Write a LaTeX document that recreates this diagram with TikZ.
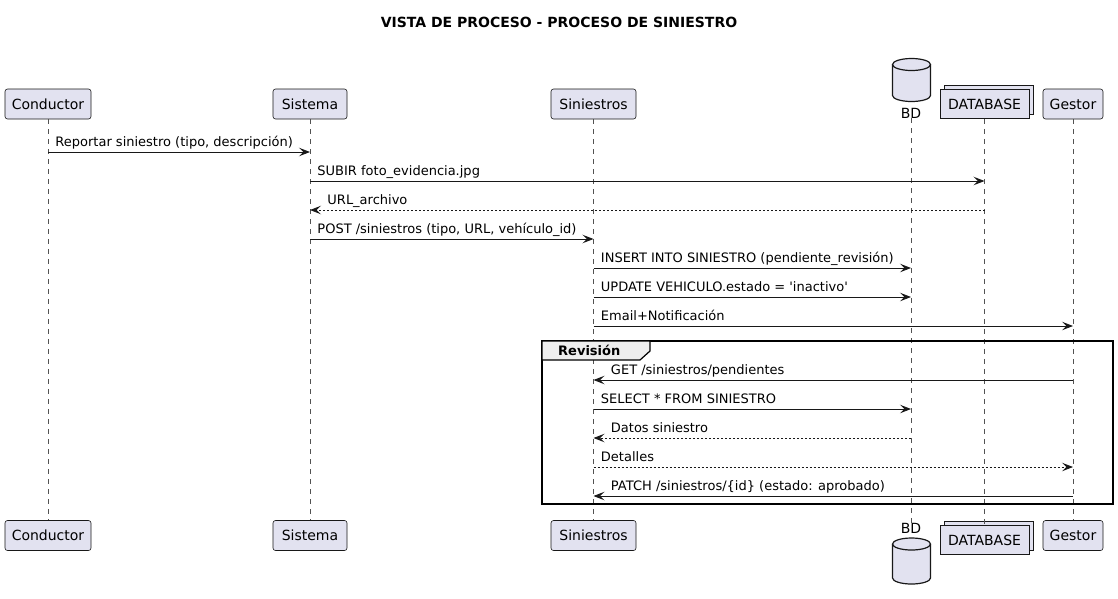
\documentclass[tikz,border=0pt]{standalone}
\usepackage{fontspec}
\setmainfont{DejaVu Sans}
\usetikzlibrary{positioning,calc}
\usetikzlibrary{arrows.meta,shadows}
\definecolor{PartFill}{HTML}{E2E2F0}
\definecolor{PartLine}{HTML}{181818}
\definecolor{TabFill}{HTML}{EEEEEE}
\tikzset{
  part/.style={draw=PartLine,fill=PartFill,rounded corners=2.5pt,line width=0.6pt,
    minimum height=30pt,inner xsep=0pt,font=\fontsize{14}{16}\selectfont},
  coll/.style={part,rounded corners=0pt,copy shadow={shadow xshift=4pt,shadow yshift=4pt,
    draw=PartLine,fill=PartFill,line width=0.6pt}},
  life/.style={draw=PartLine!75,line width=0.6pt,dash pattern=on 5pt off 5pt},
  msg/.style={draw=PartLine,line width=0.9pt,-{Stealth[length=11pt,width=8.5pt,inset=4.5pt]}},
  reply/.style={msg,dash pattern=on 2pt off 2pt},
  lblR/.style={at start,anchor=base west,xshift=7pt,yshift=6pt,inner sep=0pt,
    font=\fontsize{13}{15}\selectfont,text=black},
  lblL/.style={at end,anchor=base west,xshift=17pt,yshift=6pt,inner sep=0pt,
    font=\fontsize{13}{15}\selectfont,text=black},
  dbcyl/.style={draw=PartLine,fill=PartFill,line width=1.2pt},
}
\begin{document}
\begin{tikzpicture}[x=1pt,y=-1pt]
\useasboundingbox (0,0) rectangle (1118,598);
\node[font=\bfseries\fontsize{14}{16}\selectfont] (title) at (559,22) {VISTA DE PROCESO - PROCESO DE SINIESTRO};
\node[part,minimum width=86pt] (cond) at (48,104) {Conductor};
\node[part,minimum width=74pt] (sis) at (310,104) {Sistema};
\node[part,minimum width=85pt] (sin) at (593.5,104) {Siniestros};
\node[inner sep=0pt,font=\fontsize{14}{16}\selectfont] (bd) at (911,113) {BD};
\node[coll,minimum width=89pt,minimum height=29pt] (db) at (984.5,104) {DATABASE};
\node[part,minimum width=60pt] (ges) at (1073,104) {Gestor};
\node[part,minimum width=86pt] (condB) at (48,535.5) {Conductor};
\node[part,minimum width=74pt] (sisB) at (310,535.5) {Sistema};
\node[part,minimum width=85pt] (sinB) at (593.5,535.5) {Siniestros};
\node[inner sep=0pt,font=\fontsize{14}{16}\selectfont] (bdB) at (911,528) {BD};
\node[coll,minimum width=89pt,minimum height=29pt] (dbB) at (984.5,540) {DATABASE};
\node[part,minimum width=60pt] (gesB) at (1073,535.5) {Gestor};
\draw[dbcyl] (892.5,64.5) -- (892.5,95.5) arc[start angle=180,end angle=360,x radius=19pt,y radius=6pt] -- (930.5,64.5);
\draw[dbcyl] (911.5,64.5) ellipse [x radius=19pt,y radius=6pt];
\draw[dbcyl] (892.5,544) -- (892.5,578) arc[start angle=180,end angle=360,x radius=19pt,y radius=6pt] -- (930.5,544);
\draw[dbcyl] (911.5,544) ellipse [x radius=19pt,y radius=6pt];
\draw[life] (cond) -- (condB);
\draw[life] (sis) -- (sisB);
\draw[life] (sin) -- (sinB);
\draw[life] (bd) -- (bdB);
\draw[life] (db.south) -- (dbB.north -| db.south);
\draw[life] (ges) -- (gesB);
\draw[line width=1.5pt,draw=black] (542,341) rectangle (1113,504);
\draw[line width=1.2pt,draw=black,fill=TabFill] (542,341) -- (650,341) -- (650,351) -- (640,360) -- (542,360) -- cycle;
\node[anchor=base west,inner sep=0pt,font=\bfseries\fontsize{13}{15}\selectfont] (grp) at (558,355) {Revisión};
\coordinate (r1) at (0,152);
\coordinate (r2) at (0,181);
\coordinate (r3) at (0,210);
\coordinate (r4) at (0,239);
\coordinate (r5) at (0,268);
\coordinate (r6) at (0,297);
\coordinate (r7) at (0,326);
\coordinate (r8) at (0,380);
\coordinate (r9) at (0,409);
\coordinate (r10) at (0,438);
\coordinate (r11) at (0,467);
\coordinate (r12) at (0,496);
\draw[msg] (cond |- r1) -- (sis |- r1) node[lblR] {Reportar siniestro (tipo, descripción)};
\draw[msg] (sis |- r2) -- (db |- r2) node[lblR] {SUBIR foto\_evidencia.jpg};
\draw[reply] (db |- r3) -- (sis |- r3) node[lblL] {URL\_archivo};
\draw[msg] (sis |- r4) -- (sin |- r4) node[lblR] {POST /siniestros (tipo, URL, vehículo\_id)};
\draw[msg] (sin |- r5) -- (bd |- r5) node[lblR] {INSERT INTO SINIESTRO (pendiente\_revisión)};
\draw[msg] (sin |- r6) -- (bd |- r6) node[lblR] {UPDATE VEHICULO.estado = \textquotesingle inactivo\textquotesingle};
\draw[msg] (sin |- r7) -- (ges |- r7) node[lblR] {Email+Notificación};
\draw[msg] (ges |- r8) -- (sin |- r8) node[lblL] {GET /siniestros/pendientes};
\draw[msg] (sin |- r9) -- (bd |- r9) node[lblR] {SELECT * FROM SINIESTRO};
\draw[reply] (bd |- r10) -- (sin |- r10) node[lblL] {Datos siniestro};
\draw[reply] (sin |- r11) -- (ges |- r11) node[lblR] {Detalles};
\draw[msg] (ges |- r12) -- (sin |- r12) node[lblL] {PATCH /siniestros/\{id\} (estado: aprobado)};
\end{tikzpicture}
\end{document}
